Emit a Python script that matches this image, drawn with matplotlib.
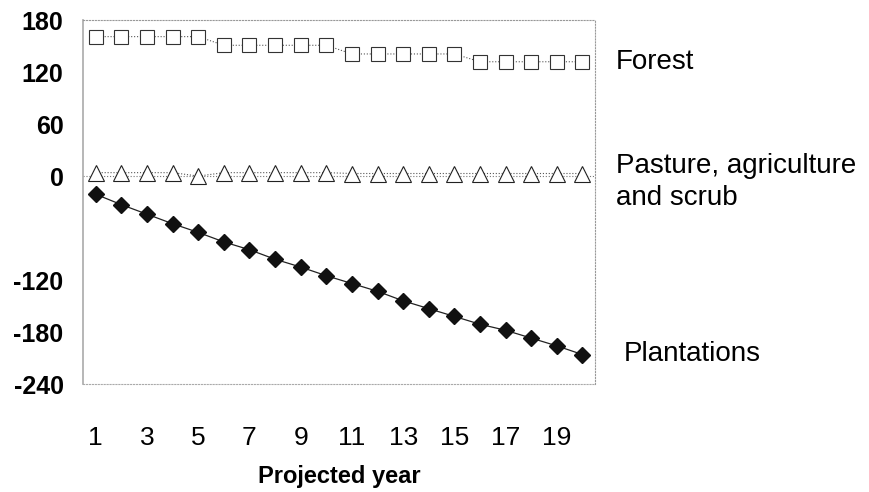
import matplotlib
matplotlib.use("Agg")
import matplotlib.pyplot as plt

plt.rcParams['font.family'] = ['Liberation Sans', 'DejaVu Sans']
plt.rcParams['axes.unicode_minus'] = False

years = list(range(1, 21))
forest = [161, 161, 161, 161, 161, 151, 151, 151, 151, 151,
          141, 141, 141, 141, 141, 132, 132, 132, 132, 132]
pasture = [4, 4, 4, 4, 0, 4, 4, 4, 4, 4,
           3, 3, 3, 3, 3, 3, 3, 3, 3, 3]
plantations = [-21, -33, -44, -55, -65, -76, -85, -96, -105, -115,
               -124, -133, -144, -153, -162, -171, -178, -187, -196, -206]
series_labels = ["Forest", "Pasture, agriculture\nand scrub", "Plantations"]
label_y = [132, -7, -205]
y_ticks = [-240, -180, -120, 0, 60, 120, 180]
x_ticks = [1, 3, 5, 7, 9, 11, 13, 15, 17, 19]

fig = plt.figure(figsize=(8.69, 4.92), dpi=100)
ax = fig.add_axes([0.0955, 0.2195, 0.5895, 0.7395])

ax.plot(years, forest, linestyle=':', color='#555555', linewidth=0.8,
        marker='s', markersize=10, markerfacecolor='white',
        markeredgecolor='#333333', markeredgewidth=0.8)
ax.plot(years, pasture, linestyle=':', color='#555555', linewidth=0.8,
        marker='^', markersize=11, markerfacecolor='white',
        markeredgecolor='#222222', markeredgewidth=0.8)
ax.plot(years, plantations, linestyle='-', color='#222222', linewidth=0.9,
        marker='D', markersize=8.5, markerfacecolor='#111111',
        markeredgecolor='#111111')

ax.axhline(0, color='#777777', linestyle=':', linewidth=0.8, zorder=0)

ax.set_xlim(0.5, 20.5)
ax.set_ylim(-240, 180)
ax.set_yticks(y_ticks)
ax.set_xticks(x_ticks)
ax.tick_params(axis='y', length=0, labelsize=18, pad=14)
ax.tick_params(axis='x', length=0, labelsize=19, pad=30)
for lbl in ax.get_yticklabels():
    lbl.set_fontweight('bold')

ax.spines['left'].set_color('#aaaaaa')
ax.spines['left'].set_linewidth(1.2)
ax.spines['bottom'].set_color('#aaaaaa')
ax.spines['bottom'].set_linestyle(':')
ax.spines['bottom'].set_linewidth(0.8)
for s in ['top', 'right']:
    ax.spines[s].set_color('#999999')
    ax.spines[s].set_linestyle(':')
    ax.spines[s].set_linewidth(0.8)

ax.set_xlabel("Projected year", fontsize=17, fontweight='bold', labelpad=11)

xs = [21.3, 21.3, 21.6]
for x, y, txt in zip(xs, label_y, series_labels):
    ax.text(x, y, txt, fontsize=20, va='center', ha='left',
            linespacing=1.3, clip_on=False)

fig.savefig("out.png", dpi=100)
